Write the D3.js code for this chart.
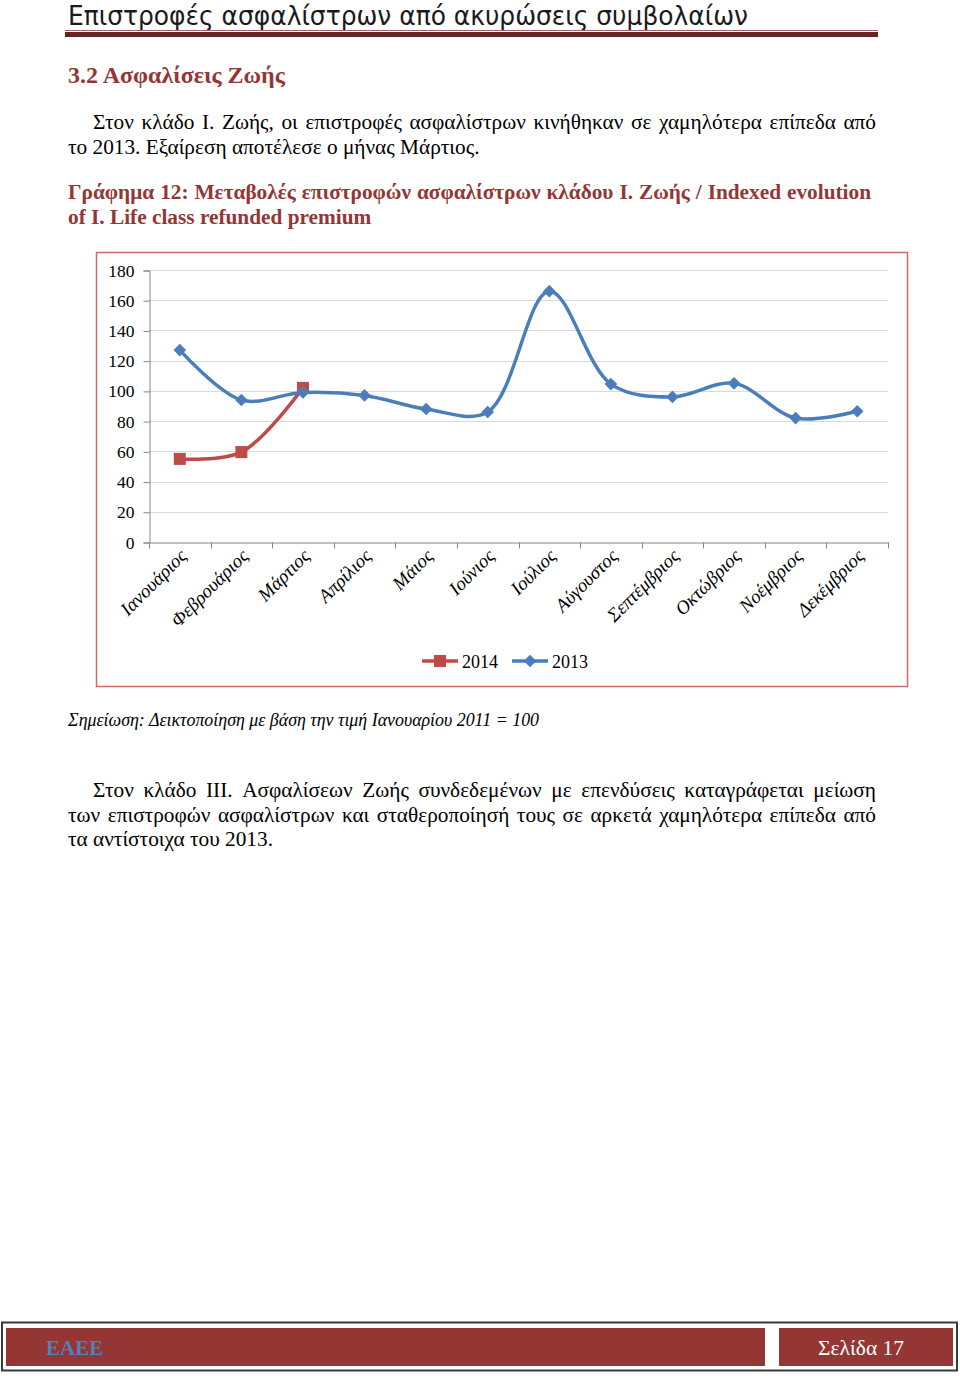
<!DOCTYPE html>
<html>
<head>
<meta charset="utf-8">
<script src="https://cdn.jsdelivr.net/npm/d3@7"></script>
<style>
  html, body { margin: 0; padding: 0; background: #fff; }
  svg { display: block; }
</style>
</head>
<body>
<svg id="page" width="960" height="1376"></svg>
<script>
// ---------- DATA ----------
const months = ["Ιανουάριος","Φεβρουάριος","Μάρτιος","Απρίλιος","Μάιος","Ιούνιος","Ιούλιος","Αύγουστος","Σεπτέμβριος","Οκτώβριος","Νοέμβριος","Δεκέμβριος"];
const values2014 = [55, 59.5, 102];
const values2013 = [127, 94, 99, 97, 88, 86, 166, 104.5, 96, 105, 82, 86.5];
const yTicks = [0, 20, 40, 60, 80, 100, 120, 140, 160, 180];
const seriesNames = ["2014", "2013"];

// ---------- PAGE ----------
const svg = d3.select("#page");
const RED = "#943634";
const serif = "'Liberation Serif','Times New Roman',serif";

// header title
svg.append("text")
  .attr("x", 68).attr("y", 25)
  .attr("font-family", "'Liberation Sans Narrow','DejaVu Sans Condensed','Liberation Sans',sans-serif")
  .attr("font-size", 26).attr("fill", "#1a1a1a")
  .attr("textLength", 680).attr("lengthAdjust", "spacingAndGlyphs")
  .text("Επιστροφές ασφαλίστρων από ακυρώσεις συμβολαίων");
svg.append("rect").attr("x", 65).attr("y", 30).attr("width", 813).attr("height", 1).attr("fill", "#9a6a6a");
svg.append("rect").attr("x", 65).attr("y", 32).attr("width", 813).attr("height", 5).attr("fill", "#632523");

// justified line helper
function line(txt, x0, x1, y, opts) {
  const g = svg.append("g")
    .attr("font-family", serif)
    .attr("font-size", opts.size)
    .attr("font-weight", opts.weight || "normal")
    .attr("font-style", opts.style || "normal")
    .attr("fill", opts.fill || "#000");
  if (!opts.justify) {
    g.append("text").attr("x", x0).attr("y", y).text(txt);
    return;
  }
  const words = txt.split(" ");
  const nodes = words.map(w => g.append("text").attr("y", y).text(w));
  const widths = nodes.map(n => n.node().getComputedTextLength());
  const total = d3.sum(widths);
  const gap = (x1 - x0 - total) / (words.length - 1);
  let x = x0;
  nodes.forEach((n, i) => { n.attr("x", x); x += widths[i] + gap; });
}

line("3.2 Ασφαλίσεις Ζωής", 68, 0, 83, {size: 24, weight: "bold", fill: RED});
line("Στον κλάδο Ι. Ζωής, οι επιστροφές ασφαλίστρων κινήθηκαν σε χαμηλότερα επίπεδα από", 93, 876, 129, {size: 21.3, justify: true});
line("το 2013. Εξαίρεση αποτέλεσε ο μήνας Μάρτιος.", 68, 0, 154, {size: 21.3});
line("Γράφημα 12: Μεταβολές επιστροφών ασφαλίστρων κλάδου Ι. Ζωής / Indexed evolution", 68, 871, 199, {size: 21.3, weight: "bold", fill: RED, justify: true});
line("of I. Life class refunded premium", 68, 0, 224, {size: 21.3, weight: "bold", fill: RED});

line("Σημείωση: Δεικτοποίηση με βάση την τιμή Ιανουαρίου 2011 = 100", 68, 0, 726, {size: 17.9, style: "italic"});

line("Στον κλάδο ΙΙΙ. Ασφαλίσεων Ζωής συνδεδεμένων με επενδύσεις καταγράφεται μείωση", 93, 876, 797, {size: 21.3, justify: true});
line("των επιστροφών ασφαλίστρων και σταθεροποίησή τους σε αρκετά χαμηλότερα επίπεδα από", 68, 876, 822, {size: 21.3, justify: true});
line("τα αντίστοιχα του 2013.", 68, 0, 846, {size: 21.3});

// ---------- CHART ----------
svg.append("rect").attr("x", 96.5).attr("y", 252.5).attr("width", 811).attr("height", 434)
  .attr("fill", "#fff").attr("stroke", "#d06a6a").attr("stroke-width", 1.5);

const x = d3.scaleBand().domain(months).range([149, 888]);
const y = d3.scaleLinear().domain([0, 180]).range([542, 270]);
const cx = m => x(m) + x.bandwidth() / 2;

// gridlines
svg.append("g").selectAll("line").data(yTicks.filter(d => d > 0)).join("line")
  .attr("x1", 149).attr("x2", 888)
  .attr("y1", d => Math.round(y(d)) + 0.5).attr("y2", d => Math.round(y(d)) + 0.5)
  .attr("stroke", "#d9d9d9").attr("stroke-width", 1.2);

// y axis
const yAxis = svg.append("g").attr("transform", "translate(149.5,0.5)")
  .call(d3.axisLeft(y).tickValues(yTicks).tickSize(6).tickPadding(9).tickFormat(d3.format("d")));
yAxis.select(".domain").attr("stroke", "#868686");
yAxis.selectAll(".tick line").attr("stroke", "#868686");
yAxis.selectAll("text").attr("font-family", serif).attr("font-size", 17.5).attr("fill", "#000");

// x axis
const xAxis = svg.append("g").attr("transform", "translate(0.5,542.5)")
  .call(d3.axisBottom(x).tickSize(0).tickFormat(""));
xAxis.select(".domain").attr("stroke", "#868686");
xAxis.selectAll(".tick").remove();
const bounds = months.map(m => x(m)).concat([x.range()[1]]);
xAxis.append("g").selectAll("line").data(bounds).join("line")
  .attr("x1", d => Math.round(d)).attr("x2", d => Math.round(d))
  .attr("y1", 0).attr("y2", 6).attr("stroke", "#868686");

// month labels
svg.append("g").selectAll("text").data(months).join("text")
  .attr("transform", d => `translate(${cx(d) + 8},${557}) rotate(-45)`)
  .attr("text-anchor", "end")
  .attr("font-family", serif).attr("font-style", "italic").attr("font-size", 19)
  .text(d => d);

// lines
const lineGen = d3.line().x(d => cx(d.m)).y(d => y(d.v)).curve(d3.curveCatmullRom.alpha(0.5));
const d2013 = values2013.map((v, i) => ({m: months[i], v}));
const d2014 = values2014.map((v, i) => ({m: months[i], v}));
const BLUE = "#4a7ebb", REDL = "#be4b48";

svg.append("path").datum(d2014).attr("d", lineGen).attr("fill", "none")
  .attr("stroke", REDL).attr("stroke-width", 3.5).attr("stroke-linecap", "round");
svg.append("g").selectAll("rect").data(d2014).join("rect")
  .attr("x", d => cx(d.m) - 6).attr("y", d => y(d.v) - 6)
  .attr("width", 12).attr("height", 12).attr("fill", REDL);

svg.append("path").datum(d2013).attr("d", lineGen).attr("fill", "none")
  .attr("stroke", BLUE).attr("stroke-width", 3.5).attr("stroke-linecap", "round");
svg.append("g").selectAll("path").data(d2013).join("path")
  .attr("d", d3.symbol().type(d3.symbolSquare).size(80)())
  .attr("transform", d => `translate(${cx(d.m)},${y(d.v)}) rotate(45)`)
  .attr("fill", BLUE);

// legend
const leg = svg.append("g").attr("font-family", serif).attr("font-size", 18);
const legItems = [
  {name: seriesNames[0], color: REDL, x0: 422, shape: "square"},
  {name: seriesNames[1], color: BLUE, x0: 512, shape: "diamond"}
];
legItems.forEach(it => {
  leg.append("line").attr("x1", it.x0).attr("x2", it.x0 + 36).attr("y1", 661).attr("y2", 661)
    .attr("stroke", it.color).attr("stroke-width", 3.5);
  if (it.shape === "square") {
    leg.append("rect").attr("x", it.x0 + 12).attr("y", 655).attr("width", 12).attr("height", 12).attr("fill", it.color);
  } else {
    leg.append("path").attr("d", d3.symbol().type(d3.symbolSquare).size(80)())
      .attr("transform", `translate(${it.x0 + 18},661) rotate(45)`).attr("fill", it.color);
  }
  leg.append("text").attr("x", it.x0 + 40).attr("y", 668).text(it.name);
});

// ---------- FOOTER ----------
svg.append("rect").attr("x", 2).attr("y", 1322.5).attr("width", 955).attr("height", 48)
  .attr("fill", "#fff").attr("stroke", "#3a3a3a").attr("stroke-width", 2);
svg.append("rect").attr("x", 6).attr("y", 1328).attr("width", 759).attr("height", 38).attr("fill", "#943634");
svg.append("rect").attr("x", 779).attr("y", 1328).attr("width", 174).attr("height", 38).attr("fill", "#943634");
svg.append("text").attr("x", 46).attr("y", 1355).attr("font-family", serif).attr("font-weight", "bold")
  .attr("font-size", 21).attr("fill", "#4f81bd").text("ΕΑΕΕ");
svg.append("text").attr("x", 818).attr("y", 1355).attr("font-family", serif)
  .attr("font-size", 21.5).attr("fill", "#fff").text("Σελίδα 17");
</script>
</body>
</html>
